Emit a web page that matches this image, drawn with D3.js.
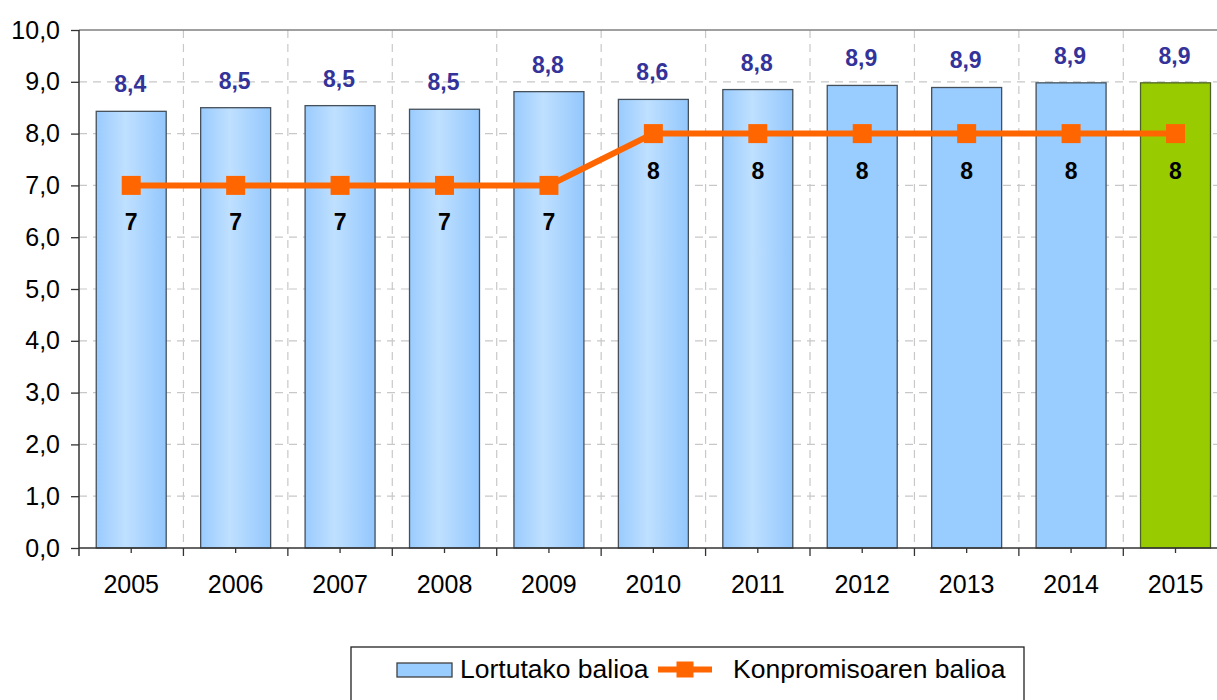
<!DOCTYPE html>
<html>
<head>
<meta charset="utf-8">
<script src="https://cdn.jsdelivr.net/npm/d3@7"></script>
<style>
  html, body { margin: 0; padding: 0; background: #fff; overflow: hidden; }
  svg { display: block; font-family: Arial, "Liberation Sans", sans-serif; }
</style>
</head>
<body>
<svg id="chart" width="1217" height="700"></svg>
<script>
// ---- data ----
const years = ["2005","2006","2007","2008","2009","2010","2011","2012","2013","2014","2015"];
const achieved = [8.43, 8.50, 8.54, 8.47, 8.81, 8.66, 8.85, 8.93, 8.89, 8.98, 8.98];
const achievedLabels = ["8,4","8,5","8,5","8,5","8,8","8,6","8,8","8,9","8,9","8,9","8,9"];
const commitment = [7, 7, 7, 7, 7, 8, 8, 8, 8, 8, 8];
const yTicks = [0,1,2,3,4,5,6,7,8,9,10];
const seriesNames = ["Lortutako balioa", "Konpromisoaren balioa"];

(function () {
// ---- layout ----
const svg = d3.select("#chart");
const plotLeft = 79, plotTop = 30, plotBottom = 548;
const step = 104.43;
const plotRight = plotLeft + years.length * step;

const x = d3.scaleBand().domain(years).range([plotLeft, plotRight]).paddingInner(0.33).paddingOuter(0.165);
const y = d3.scaleLinear().domain([0, 10]).range([plotBottom, plotTop]);
const loc = d3.formatLocale({decimal: ",", thousands: ".", grouping: [3], currency: ["", ""]});
const fmt1 = loc.format(".1f");

const defs = svg.append("defs");
const grad = defs.append("linearGradient").attr("id", "barGrad").attr("x1", "0%").attr("x2", "100%").attr("y1", "0%").attr("y2", "0%");
grad.append("stop").attr("offset", "0%").attr("stop-color", "#9acbfe");
grad.append("stop").attr("offset", "42%").attr("stop-color", "#bfe0ff");
grad.append("stop").attr("offset", "100%").attr("stop-color", "#93c7fd");

// gridlines
const grid = svg.append("g");
grid.selectAll("line.h").data(yTicks.filter(t => t > 0 && t < 10)).enter().append("line")
  .attr("x1", plotLeft).attr("x2", 1217).attr("y1", d => y(d)).attr("y2", d => y(d))
  .attr("stroke", "#c8c8c8").attr("stroke-width", 1.2).attr("stroke-dasharray", "8,6");
const boundaries = d3.range(1, years.length).map(i => plotLeft + i * x.step());
grid.selectAll("line.v").data(boundaries).enter().append("line")
  .attr("x1", d => d).attr("x2", d => d).attr("y1", plotTop).attr("y2", plotBottom)
  .attr("stroke", "#c8c8c8").attr("stroke-width", 1.2).attr("stroke-dasharray", "8,6");

// top border
svg.append("line").attr("x1", plotLeft).attr("x2", 1217).attr("y1", y(10)).attr("y2", y(10))
  .attr("stroke", "#808080").attr("stroke-width", 1.5);

// bars
const nYears = years.length;
function barFill(i) {
  if (i === nYears - 1) return "#99cc00";
  if (i >= 7) return "#99ccff";
  return "url(#barGrad)";
}
svg.append("g").selectAll("rect").data(achieved).enter().append("rect")
  .attr("x", (d, i) => x(years[i]))
  .attr("y", d => y(d))
  .attr("width", x.bandwidth())
  .attr("height", d => y(0) - y(d))
  .attr("fill", (d, i) => barFill(i))
  .attr("stroke", (d, i) => i === nYears - 1 ? "#4d6326" : "#45505a")
  .attr("stroke-width", 1.3);

// value labels
svg.append("g").selectAll("text").data(achieved).enter().append("text")
  .attr("x", (d, i) => x(years[i]) + x.bandwidth() / 2 - 1)
  .attr("y", d => y(d) - 19)
  .attr("text-anchor", "middle")
  .attr("font-size", 23).attr("font-weight", "bold").attr("fill", "#333399")
  .text((d, i) => achievedLabels[i]);

// axes
const yAxis = d3.axisLeft(y).tickValues(yTicks).tickSize(8).tickPadding(11).tickFormat(d => fmt1(d));
const gy = svg.append("g").attr("transform", `translate(${plotLeft},0)`).call(yAxis);
gy.select(".domain").remove();
gy.selectAll(".tick line").attr("stroke", "#333").attr("stroke-width", 1.3);
gy.selectAll(".tick text").attr("font-size", 25).attr("fill", "#000")
  .attr("font-family", "Arial, 'Liberation Sans', sans-serif");
svg.append("line").attr("x1", plotLeft).attr("x2", plotLeft).attr("y1", plotTop).attr("y2", plotBottom + 8)
  .attr("stroke", "#333").attr("stroke-width", 1.5);

const xAxis = d3.axisBottom(x).tickSize(5).tickPadding(22);
const gx = svg.append("g").attr("transform", `translate(0,${plotBottom})`).call(xAxis);
gx.select(".domain").remove();
gx.selectAll(".tick line").attr("stroke", "#333").attr("stroke-width", 1.3);
gx.selectAll(".tick text").attr("font-size", 25).attr("fill", "#000")
  .attr("font-family", "Arial, 'Liberation Sans', sans-serif");
svg.append("line").attr("x1", plotLeft).attr("x2", 1217).attr("y1", plotBottom).attr("y2", plotBottom)
  .attr("stroke", "#333").attr("stroke-width", 1.5);
svg.append("g").selectAll("line").data(boundaries).enter().append("line")
  .attr("x1", d => d).attr("x2", d => d).attr("y1", plotBottom).attr("y2", plotBottom + 8)
  .attr("stroke", "#333").attr("stroke-width", 1.3);

// commitment line
const cx = (d, i) => x(years[i]) + x.bandwidth() / 2;
const line = d3.line().x((d, i) => cx(d, i)).y(d => y(d));
svg.append("path").datum(commitment).attr("d", line)
  .attr("fill", "none").attr("stroke", "#ff6600").attr("stroke-width", 6).attr("stroke-linejoin", "miter");
const ms = 19;
svg.append("g").selectAll("rect").data(commitment).enter().append("rect")
  .attr("x", (d, i) => cx(d, i) - ms / 2).attr("y", d => y(d) - ms / 2)
  .attr("width", ms).attr("height", ms).attr("fill", "#ff6600");
svg.append("g").selectAll("text").data(commitment).enter().append("text")
  .attr("x", (d, i) => cx(d, i)).attr("y", d => y(d) + 45)
  .attr("text-anchor", "middle").attr("font-size", 23).attr("font-weight", "bold").attr("fill", "#000")
  .text(d => d3.format("d")(d));

// legend
const lg = svg.append("g");
lg.append("rect").attr("x", 351).attr("y", 647).attr("width", 673).attr("height", 70)
  .attr("fill", "#fff").attr("stroke", "#222").attr("stroke-width", 1.3);
lg.append("rect").attr("x", 397).attr("y", 663).attr("width", 55).attr("height", 14)
  .attr("fill", "#99ccff").attr("stroke", "#404040").attr("stroke-width", 1.3);
lg.append("text").attr("x", 460).attr("y", 678).attr("font-size", 26.5).attr("fill", "#000").text(seriesNames[0]);
lg.append("line").attr("x1", 658).attr("x2", 712).attr("y1", 669.5).attr("y2", 669.5)
  .attr("stroke", "#ff6600").attr("stroke-width", 6);
lg.append("rect").attr("x", 685 - 8.5).attr("y", 669.5 - 8).attr("width", 17).attr("height", 16).attr("fill", "#ff6600");
lg.append("text").attr("x", 733).attr("y", 678).attr("font-size", 26.5).attr("fill", "#000").text(seriesNames[1]);
})();
</script>
</body>
</html>
